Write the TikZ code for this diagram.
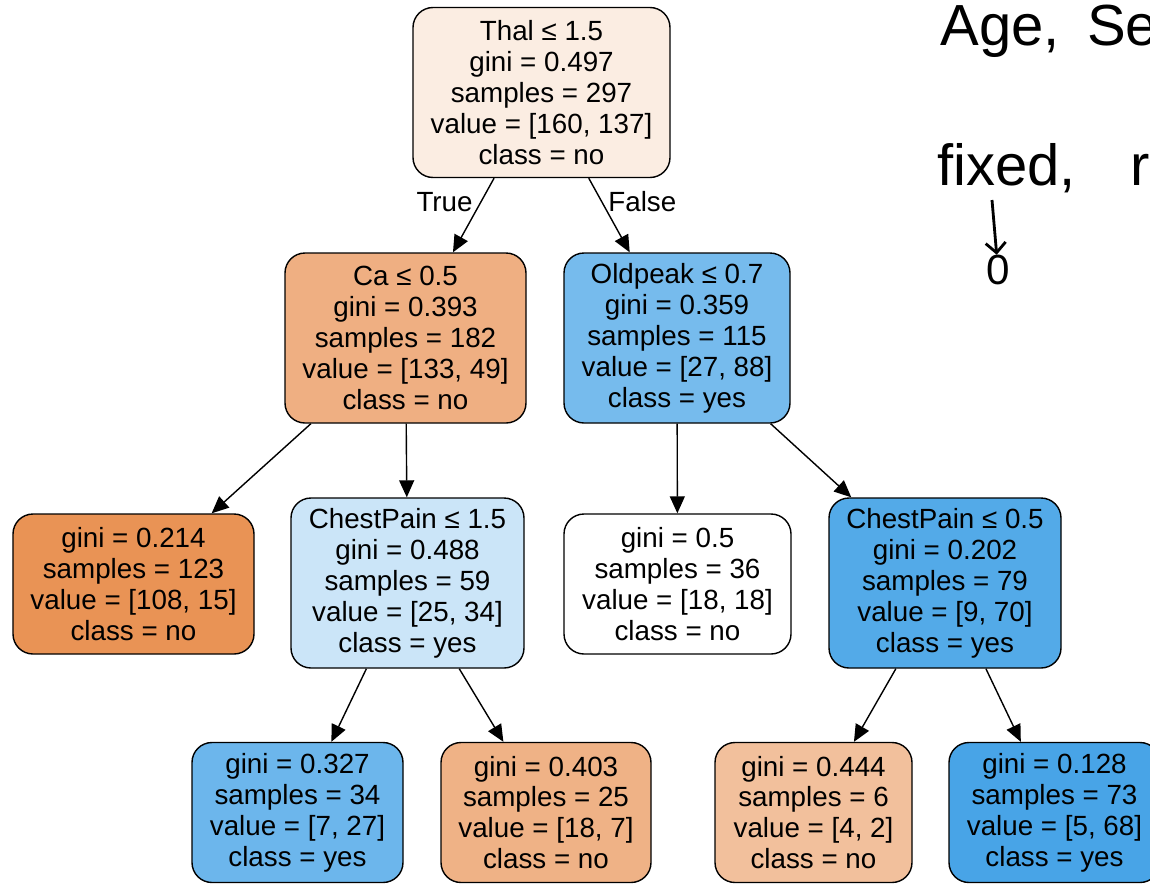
\documentclass[tikz,border=0pt]{standalone}
\usepackage{fontspec}
\setmainfont{Liberation Sans}
\usepackage{tikz}
\usetikzlibrary{positioning,shapes,arrows.meta,calc}

\definecolor{cRoot}{RGB}{251,237,226}
\definecolor{cCa}{RGB}{239,175,130}
\definecolor{cOld}{RGB}{118,187,237}
\definecolor{cLeafA}{RGB}{233,147,85}
\definecolor{cChestA}{RGB}{203,229,248}
\definecolor{cChestB}{RGB}{83,170,232}
\definecolor{cLeafB}{RGB}{108,182,236}
\definecolor{cLeafC}{RGB}{239,178,134}
\definecolor{cLeafD}{RGB}{242,192,156}
\definecolor{cLeafE}{RGB}{72,164,231}

\tikzstyle{split} = [rectangle, rounded corners=0.4cm, draw=black, line width=0.8pt, minimum height=3.4cm, align=center, font=\fontsize{15.8}{17.6}\selectfont]
\tikzstyle{leaf} = [split, minimum height=2.8cm]
\tikzstyle{arrow} = [line width=0.8pt,-{Triangle[length=0.34cm,width=0.3cm]}]
\tikzstyle{note} = [anchor=base west, inner sep=0pt, font=\fontsize{33}{33}\selectfont]

\begin{document}
\begin{tikzpicture}[node distance=1cm]

\useasboundingbox (0,0) rectangle (23,-17.66);
\clip (0,0) rectangle (23,-17.66);

\node (root) [split, fill=cRoot, minimum width=5.14cm] at (10.83,-1.85) {Thal ≤ 1.5\\gini = 0.497\\samples = 297\\value = [160, 137]\\class = no};

\node (ca) [split, fill=cCa, minimum width=4.82cm, below of=root, xshift=-2.72cm, yshift=-3.91cm] {Ca ≤ 0.5\\gini = 0.393\\samples = 182\\value = [133, 49]\\class = no};
\node (old) [split, fill=cOld, minimum width=4.52cm, below of=root, xshift=2.71cm, yshift=-3.91cm] {Oldpeak ≤ 0.7\\gini = 0.359\\samples = 115\\value = [27, 88]\\class = yes};

\node (leafa) [leaf, fill=cLeafA, minimum width=4.82cm, below of=ca, xshift=-5.44cm, yshift=-3.92cm] {gini = 0.214\\samples = 123\\value = [108, 15]\\class = no};
\node (chesta) [split, fill=cChestA, minimum width=4.66cm, below of=ca, xshift=0.04cm, yshift=-3.9cm] {ChestPain ≤ 1.5\\gini = 0.488\\samples = 59\\value = [25, 34]\\class = yes};
\node (even) [leaf, fill=white, minimum width=4.54cm, below of=old, xshift=0.01cm, yshift=-3.92cm] {gini = 0.5\\samples = 36\\value = [18, 18]\\class = no};
\node (chestb) [split, fill=cChestB, minimum width=4.64cm, below of=old, xshift=5.36cm, yshift=-3.9cm] {ChestPain ≤ 0.5\\gini = 0.202\\samples = 79\\value = [9, 70]\\class = yes};

\node (leafb) [leaf, fill=cLeafB, minimum width=4.22cm, below of=chesta, xshift=-2.2cm, yshift=-3.59cm] {gini = 0.327\\samples = 34\\value = [7, 27]\\class = yes};
\node (leafc) [leaf, fill=cLeafC, minimum width=4.2cm, below of=chesta, xshift=2.77cm, yshift=-3.59cm] {gini = 0.403\\samples = 25\\value = [18, 7]\\class = no};
\node (leafd) [leaf, fill=cLeafD, minimum width=3.94cm, below of=chestb, xshift=-2.63cm, yshift=-3.59cm] {gini = 0.444\\samples = 6\\value = [4, 2]\\class = no};
\node (leafe) [leaf, fill=cLeafE, minimum width=4.22cm, below of=chestb, xshift=2.19cm, yshift=-3.59cm] {gini = 0.128\\samples = 73\\value = [5, 68]\\class = yes};

% handwritten notes
\node (age) [note] at (18.8,-0.9) {Age,\hspace{0.55cm}Se};
\node (fixed) [note] at (18.74,-3.7) {fixed,\hspace{1.1cm}r};
\node (zero) [inner sep=0pt, font=\fontsize{24}{24}\selectfont] at (19.96,-5.4) {0};
\coordinate (fdown) at ($(fixed.base west)+(1.1,-0.3)$);

\draw [arrow] (root) -- (ca) node [pos=0.32, left, xshift=-1pt, font=\fontsize{15.8}{17.6}\selectfont] {True};
\draw [arrow] (root) -- (old) node [pos=0.32, right, font=\fontsize{15.8}{17.6}\selectfont] {False};
\draw [arrow] (ca) -- (leafa);
\draw [arrow] (ca) -- (chesta);
\draw [arrow] (old) -- (even);
\draw [arrow] (old) -- (chestb);
\draw [arrow] (chesta) -- (leafb);
\draw [arrow] (chesta) -- (leafc);
\draw [arrow] (chestb) -- (leafd);
\draw [arrow] (chestb) -- (leafe);

\draw [line width=1.6pt,-{Straight Barb[length=0.2cm]}] (fdown) -- (zero);

\end{tikzpicture}
\end{document}
